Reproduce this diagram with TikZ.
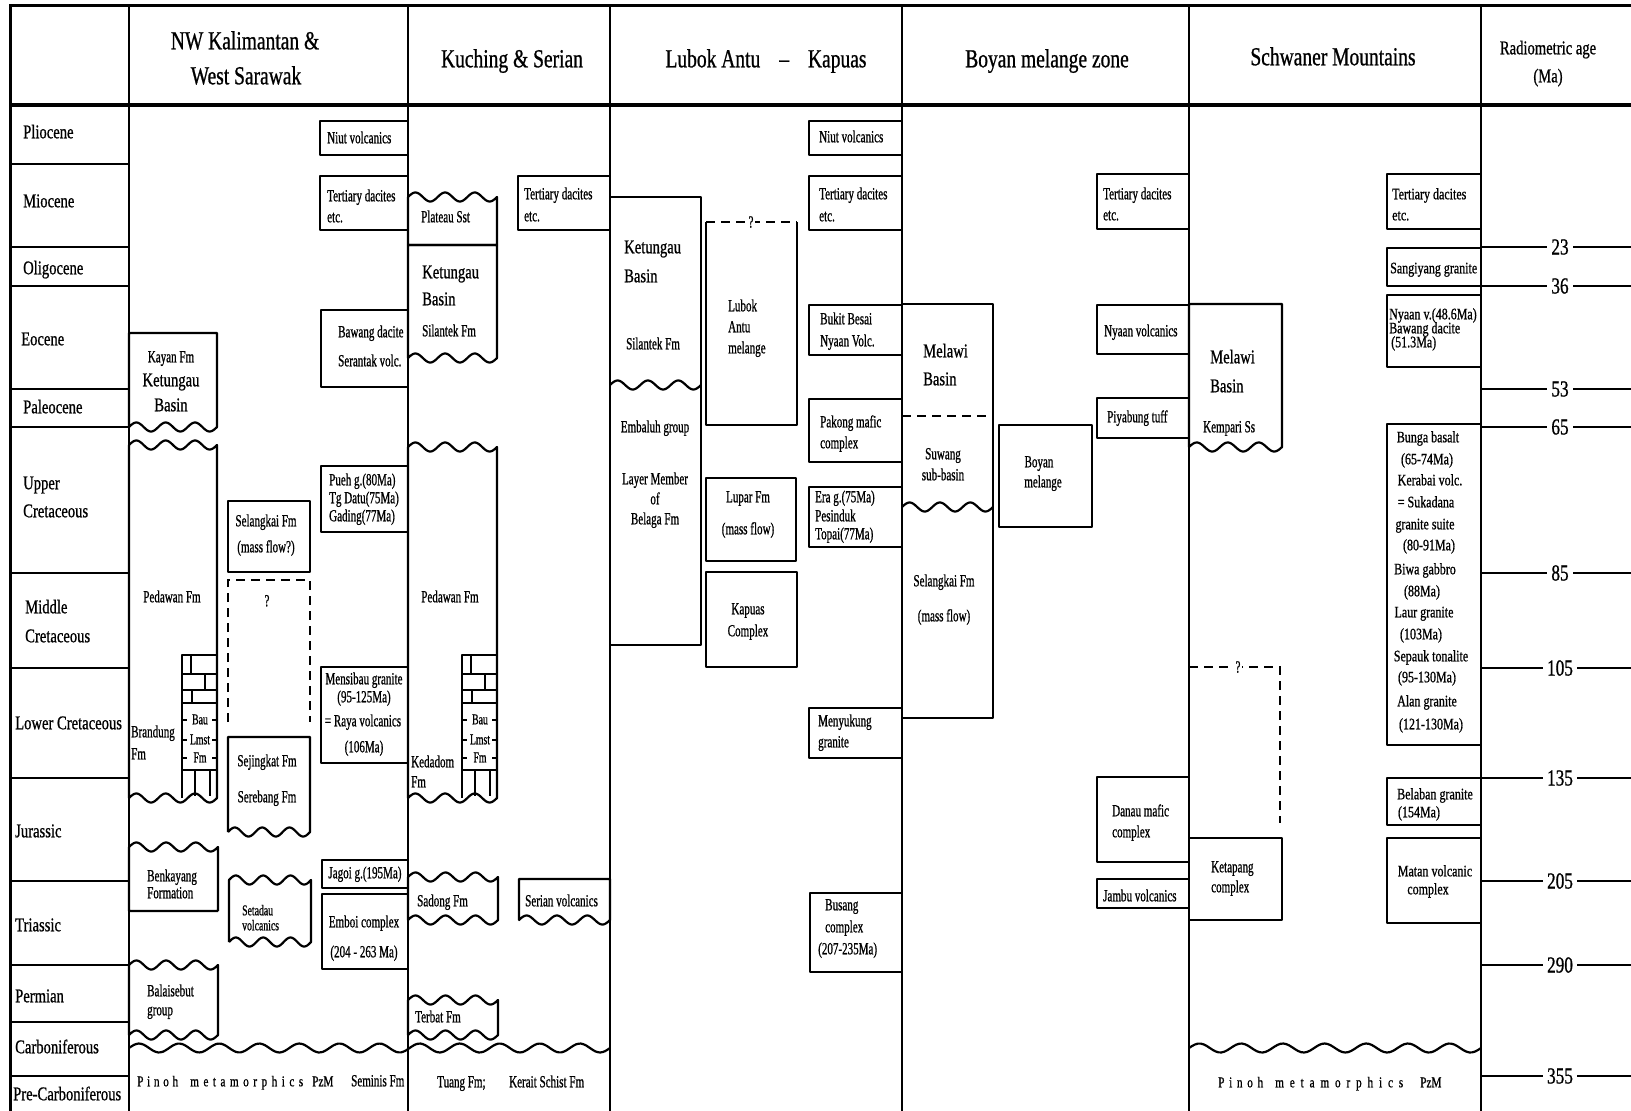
\documentclass[tikz,border=0pt]{standalone}
\usepackage{fontspec}
\setmainfont[FakeStretch=0.75,FakeBold=0.8]{Liberation Serif}
\newfontfamily\nar[FakeStretch=0.65,FakeBold=0.8]{Liberation Serif}
\newcommand\TL[5]{\node[#1,anchor=mid west] (#2) at (#3,#4) {#5};}
\newcommand\TC[5]{\node[#1,anchor=mid] (#2) at (#3,#4) {#5};}
\newcommand\spr[2]{\makebox[#1][s]{#2}}
\tikzset{
 wvr/.style n args={4}{insert path={-- plot[domain=#1:#2,samples=100,smooth,variable=\t] (\t,{#3-4.5*sin(360*#4*((\t-#1)/(#2-#1)))})}},
 wvl/.style n args={4}{insert path={-- plot[domain=#2:#1,samples=100,smooth,variable=\t] (\t,{#3-4.5*sin(360*#4*((\t-#1)/(#2-#1)))})}},
 bx/.style={line width=2.2pt, line join=round},
 col/.style={line width=2pt},
 dsh/.style={line width=2.4pt, dash pattern=on 9pt off 6pt},
 tx/.style={font=\nar\fontsize{17}{19}\selectfont, inner sep=0pt, yshift=-2pt},
 txs/.style={font=\nar\fontsize{15}{16}\selectfont, inner sep=0pt, yshift=-2pt},
 bg/.style={font=\fontsize{19.5}{22}\selectfont, inner sep=0pt, yshift=-3pt},
 hd/.style={font=\fontsize{26}{30}\selectfont, inner sep=0pt, yshift=-5pt},
 rt/.style={font=\fontsize{16}{17}\selectfont, inner sep=0pt, yshift=-2pt},
 pin/.style={font=\fontsize{15}{16}\selectfont, inner sep=0pt, yshift=-2pt},
 num/.style={font=\fontsize{23}{25}\selectfont, fill=white, inner xsep=4pt, inner ysep=1pt},
 qm/.style={font=\nar\fontsize{17}{19}\selectfont, fill=white, inner sep=2pt},
}
\newcommand\bricks[2]{%
 \draw[bx] (#1,798) -- (#1,655) -- (#1+35,655);
 \draw[line width=1.8pt] (#1,674) -- (#1+35,674) (#1,690) -- (#1+35,690) (#1,703) -- (#1+35,703) (#1,770) -- (#1+35,770);
 \draw[line width=1.8pt] (#1+9,655) -- (#1+9,674) (#1+23,674) -- (#1+23,690) (#1+10,690) -- (#1+10,703) (#1+13,770) -- (#1+13,796) (#1+28,770) -- (#1+28,796);
 \foreach \yy in {720,740,758} {\draw[line width=1.5pt] (#1,\yy) -- (#1+5,\yy) (#1+30,\yy) -- (#1+35,\yy);}
 \TC{txs}{#2a}{#1+18}{720}{Bau}
 \TC{txs}{#2b}{#1+18}{740}{Lmst}
 \TC{txs}{#2c}{#1+18}{758}{Fm}
}
\begin{document}
\begin{tikzpicture}[x=1pt,y=-1pt]
\useasboundingbox (0,0) rectangle (1631,1111);
% frame
\draw[line width=3pt] (10,1111) -- (10,5) -- (1631,5);
\draw[line width=3.5pt] (10,105) -- (1631,105);
\foreach \x in {129,408,610,902,1189,1481} \draw[col] (\x,5) -- (\x,1111);
\foreach \y in {164,247,286,389,427,573,668,778,881,965,1022,1076} \draw[line width=2.6pt] (10,\y) -- (129,\y);
% ages
\foreach \y/\v [count=\i] in {247/23,286/36,389/53,427/65,573/85,668/105,778/135,881/205,965/290,1076/355} {\draw[col] (1481,\y) -- (1631,\y); \node[num] (age\i) at (1560,\y) {\v};}
% headers
\TC{hd}{h1a}{245}{42}{NW Kalimantan \&}
\TC{hd}{h1b}{246}{77}{West Sarawak}
\TC{hd}{h2}{512}{60}{Kuching \& Serian}
\TC{hd}{h3}{766}{60}{Lubok Antu\hspace{19pt}\textendash\hspace{19pt}Kapuas}
\TC{hd}{h4}{1047}{60}{Boyan melange zone}
\TC{hd}{h5}{1333}{58}{Schwaner Mountains}
\TC{bg}{h6a}{1548}{49}{Radiometric age}
\TC{bg}{h6b}{1548}{77}{(Ma)}
% periods
\TL{bg}{p1}{23}{133}{Pliocene}
\TL{bg}{p2}{23}{202}{Miocene}
\TL{bg}{p3}{23}{269}{Oligocene}
\TL{bg}{p4}{21}{340}{Eocene}
\TL{bg}{p5}{23}{408}{Paleocene}
\TL{bg}{p6a}{23}{484}{Upper}
\TL{bg}{p6b}{23}{512}{Cretaceous}
\TL{bg}{p7a}{25}{608}{Middle}
\TL{bg}{p7b}{25}{637}{Cretaceous}
\TL{bg}{p8}{15}{724}{Lower Cretaceous}
\TL{bg}{p9}{15}{832}{Jurassic}
\TL{bg}{p10}{15}{926}{Triassic}
\TL{bg}{p11}{15}{997}{Permian}
\TL{bg}{p12}{15}{1048}{Carboniferous}
\TL{bg}{p13}{13}{1095}{Pre-Carboniferous}
% ===== NW Kalimantan =====
\draw[bx] (320,121) rectangle (408,155);
\TL{tx}{nwNiut}{327}{139}{Niut volcanics}
\draw[bx] (320,176) rectangle (408,230);
\TL{tx}{nwTd1}{327}{197}{Tertiary dacites}
\TL{tx}{nwTd2}{327}{218}{etc.}
\draw[bx] (321,310) rectangle (408,387);
\TL{tx}{nwBaw}{338}{333}{Bawang dacite}
\TL{tx}{nwSer}{338}{362}{Serantak volc.}
\draw[bx] (129,427) -- (129,333) -- (217,333) -- (217,427) [wvl={129}{217}{427}{3}];
\TC{tx}{kay}{171}{358}{Kayan Fm}
\TC{bg}{kayK}{171}{381}{Ketungau}
\TC{bg}{kayB}{171}{406}{Basin}
\draw[bx] (129,798) -- (129,445) [wvr={129}{217}{445}{3}] -- (217,798) [wvl={129}{217}{798}{3}] -- cycle;
\TC{tx}{nwPed}{172}{598}{Pedawan Fm}
\TL{tx}{nwBra}{131}{733}{Brandung}
\TL{tx}{nwBraF}{131}{755}{Fm}
\bricks{182}{nwbau}
\draw[bx] (228,501) rectangle (310,572);
\TC{tx}{nwSel}{266}{522}{Selangkai Fm}
\TC{tx}{nwSelm}{266}{548}{(mass flow?)}
\draw[dsh] (228,722) -- (228,580) -- (310,580) -- (310,722);
\TC{tx}{nwQ}{267}{602}{?}
\draw[bx] (228,832) -- (228,737) -- (310,737) -- (310,832) [wvl={228}{310}{832}{3}];
\TC{tx}{nwSej}{267}{762}{Sejingkat Fm}
\TC{tx}{nwSereb}{267}{798}{Serebang Fm}
\draw[bx] (321,466) rectangle (408,532);
\TL{tx}{pueh1}{329}{481}{Pueh g.(80Ma)}
\TL{tx}{pueh2}{329}{499}{Tg Datu(75Ma)}
\TL{tx}{pueh3}{329}{517}{Gading(77Ma)}
\draw[bx] (321,667) rectangle (408,763);
\TC{tx}{mens1}{364}{680}{Mensibau granite}
\TC{tx}{mens2}{364}{698}{(95-125Ma)}
\TC{tx}{mens3}{363}{722}{= Raya volcanics}
\TC{tx}{mens4}{364}{748}{(106Ma)}
\draw[bx] (218,911) -- (129,911) -- (129,847) [wvr={129}{218}{847}{3}] -- (218,911);
\TL{tx}{benk1}{147}{877}{Benkayang}
\TL{tx}{benk2}{147}{894}{Formation}
\draw[bx] (229,942) -- (229,880) [wvr={229}{311}{880}{3}] -- (311,942) [wvl={229}{311}{942}{3}];
\TL{txs}{seta1}{242}{911}{Setadau}
\TL{txs}{seta2}{242}{926}{volcanics}
\draw[bx] (322,860) rectangle (408,888);
\TC{tx}{jagoi}{365}{874}{Jagoi g.(195Ma)}
\draw[bx] (322,894) rectangle (408,969);
\TC{tx}{emb1}{364}{923}{Emboi complex}
\TC{tx}{emb2}{364}{953}{(204 - 263 Ma)}
\draw[bx] (129,1035) -- (129,965) [wvr={129}{218}{965}{3}] -- (218,1035) [wvl={129}{218}{1035}{3}];
\TL{tx}{bal1}{147}{992}{Balaisebut}
\TL{tx}{bal2}{147}{1011}{group}
\draw[bx] (129,1048) [wvr={129}{610}{1048}{12}];
\node[pin,anchor=mid west] (nwPin) at (137,1082) {\spr{41pt}{P\hfil i\hfil n\hfil o\hfil h}};
\node[pin,anchor=mid west] (nwMet) at (190,1082) {\spr{113pt}{m\hfil e\hfil t\hfil a\hfil m\hfil o\hfil r\hfil p\hfil h\hfil i\hfil c\hfil s}};
\TL{pin}{nwPzM}{312}{1082}{PzM}
\TL{tx}{nwSem}{351}{1082}{Seminis Fm}
% ===== Kuching & Serian =====
\draw[bx] (408,245) -- (408,197) [wvr={408}{497}{197}{3}] -- (497,245) -- cycle;
\TL{tx}{plat}{421}{218}{Plateau Sst}
\draw[bx] (408,245) -- (497,245) -- (497,358) [wvl={408}{497}{358}{3}] -- cycle;
\TL{bg}{kuK}{422}{273}{Ketungau}
\TL{bg}{kuB}{422}{300}{Basin}
\TL{tx}{kuSil}{422}{332}{Silantek Fm}
\draw[bx] (518,176) rectangle (610,230);
\TL{tx}{kuTd1}{524}{195}{Tertiary dacites}
\TL{tx}{kuTd2}{524}{217}{etc.}
\draw[bx] (408,798) -- (408,447) [wvr={408}{497}{447}{3}] -- (497,798) [wvl={408}{497}{798}{3}] -- cycle;
\TC{tx}{kuPed}{450}{598}{Pedawan Fm}
\TL{tx}{kuKed}{411}{763}{Kedadom}
\TL{tx}{kuKedF}{411}{783}{Fm}
\bricks{462}{kubau}
\draw[bx] (408,920) -- (408,877) [wvr={408}{498}{877}{3}] -- (498,920) [wvl={408}{498}{920}{3}] -- cycle;
\TL{tx}{sad}{417}{902}{Sadong Fm}
\draw[bx] (519,920) -- (519,879) -- (610,879) -- (610,920) [wvl={519}{610}{920}{3}] -- cycle;
\TL{tx}{seri}{525}{902}{Serian volcanics}
\draw[bx] (408,1035) -- (408,1000) [wvr={408}{498}{1000}{3}] -- (498,1035) [wvl={408}{498}{1035}{3}] -- cycle;
\TL{tx}{terb}{415}{1018}{Terbat Fm}
\TL{tx}{tuang}{437}{1083}{Tuang Fm;}
\TL{tx}{kerait}{509}{1083}{Kerait Schist Fm}
% ===== Lubok Antu - Kapuas =====
\draw[bx] (610,197) rectangle (701,645);
\draw[bx] (610,385) [wvr={610}{701}{385}{3}];
\TL{bg}{luK}{624}{248}{Ketungau}
\TL{bg}{luB}{624}{277}{Basin}
\TL{tx}{luSil}{626}{345}{Silantek Fm}
\TC{tx}{luEmb}{655}{428}{Embaluh group}
\TC{tx}{luLay}{655}{480}{Layer Member}
\TC{tx}{luOf}{655}{500}{of}
\TC{tx}{luBel}{655}{520}{Belaga Fm}
\draw[bx] (706,222) -- (706,425) -- (797,425) -- (797,222);
\draw[dsh] (706,222) -- (797,222);
\node[qm] (luQ) at (751,222) {?};
\TL{tx}{lam1}{728}{307}{Lubok}
\TL{tx}{lam2}{728}{328}{Antu}
\TL{tx}{lam3}{728}{349}{melange}
\draw[bx] (706,478) rectangle (796,561);
\TC{tx}{lup1}{748}{498}{Lupar Fm}
\TC{tx}{lup2}{748}{530}{(mass flow)}
\draw[bx] (706,572) rectangle (797,667);
\TC{tx}{kap1}{748}{610}{Kapuas}
\TC{tx}{kap2}{748}{632}{Complex}
\draw[bx] (809,121) rectangle (902,155);
\TL{tx}{luNiut}{819}{138}{Niut volcanics}
\draw[bx] (809,176) rectangle (902,230);
\TL{tx}{luTd1}{819}{195}{Tertiary dacites}
\TL{tx}{luTd2}{819}{217}{etc.}
\draw[bx] (809,305) rectangle (902,355);
\TL{tx}{buk1}{820}{320}{Bukit Besai}
\TL{tx}{buk2}{820}{342}{Nyaan Volc.}
\draw[bx] (809,399) rectangle (902,462);
\TL{tx}{pak1}{820}{423}{Pakong mafic}
\TL{tx}{pak2}{820}{444}{complex}
\draw[bx] (809,487) rectangle (902,547);
\TL{tx}{era1}{815}{498}{Era g.(75Ma)}
\TL{tx}{era2}{815}{517}{Pesinduk}
\TL{tx}{era3}{815}{535}{Topai(77Ma)}
\draw[bx] (809,708) rectangle (902,758);
\TL{tx}{meny1}{818}{722}{Menyukung}
\TL{tx}{meny2}{818}{743}{granite}
\draw[bx] (810,893) rectangle (902,972);
\TL{tx}{bus1}{825}{906}{Busang}
\TL{tx}{bus2}{825}{928}{complex}
\TL{tx}{bus3}{818}{950}{(207-235Ma)}
% ===== Boyan melange zone =====
\draw[bx] (902,416) -- (902,304) -- (993,304) -- (993,718) -- (902,718);
\draw[dsh] (902,416) -- (993,416);
\draw[bx] (902,507) [wvr={902}{993}{507}{3}];
\TL{bg}{boM}{923}{352}{Melawi}
\TL{bg}{boB}{923}{380}{Basin}
\TC{tx}{suw1}{943}{455}{Suwang}
\TC{tx}{suw2}{943}{476}{sub-basin}
\TC{tx}{bsel1}{944}{582}{Selangkai Fm}
\TC{tx}{bsel2}{944}{617}{(mass flow)}
\draw[bx] (999,425) rectangle (1092,527);
\TC{tx}{boy1}{1039}{463}{Boyan}
\TC{tx}{boy2}{1043}{483}{melange}
\draw[bx] (1097,174) rectangle (1189,229);
\TL{tx}{boTd1}{1103}{195}{Tertiary dacites}
\TL{tx}{boTd2}{1103}{216}{etc.}
\draw[bx] (1097,305) rectangle (1189,354);
\TL{tx}{boNy}{1104}{332}{Nyaan volcanics}
\draw[bx] (1097,398) rectangle (1189,438);
\TL{tx}{piy}{1107}{418}{Piyabung tuff}
\draw[bx] (1097,777) rectangle (1189,862);
\TL{tx}{dan1}{1112}{812}{Danau mafic}
\TL{tx}{dan2}{1112}{833}{complex}
\draw[bx] (1097,879) rectangle (1189,908);
\TL{tx}{jam}{1103}{897}{Jambu volcanics}
% ===== Schwaner Mountains =====
\draw[bx] (1189,447) -- (1189,304) -- (1282,304) -- (1282,447) [wvl={1189}{1282}{447}{3}];
\TL{bg}{scM}{1210}{358}{Melawi}
\TL{bg}{scB}{1210}{387}{Basin}
\TL{tx}{kem}{1203}{428}{Kempari Ss}
\draw[dsh] (1189,667) -- (1280,667) -- (1280,823);
\node[qm] (scQ) at (1238,667) {?};
\draw[bx] (1189,838) rectangle (1282,920);
\TL{tx}{ket1}{1211}{868}{Ketapang}
\TL{tx}{ket2}{1211}{888}{complex}
\draw[bx] (1189,1048) [wvr={1189}{1481}{1048}{7}];
\node[pin,anchor=mid west] (scPin) at (1218,1083) {\spr{45pt}{P\hfil i\hfil n\hfil o\hfil h}};
\node[pin,anchor=mid west] (scMet) at (1275,1083) {\spr{128pt}{m\hfil e\hfil t\hfil a\hfil m\hfil o\hfil r\hfil p\hfil h\hfil i\hfil c\hfil s}};
\TL{pin}{scPzM}{1420}{1083}{PzM}
\draw[bx] (1387,174) rectangle (1481,229);
\TL{rt}{scTd1}{1392}{195}{Tertiary dacites}
\TL{rt}{scTd2}{1392}{216}{etc.}
\draw[bx] (1387,248) rectangle (1481,286);
\TL{rt}{sang}{1390}{269}{Sangiyang granite}
\draw[bx] (1387,295) rectangle (1481,367);
\TL{rt}{nyv1}{1389}{315}{Nyaan v.(48.6Ma)}
\TL{rt}{nyv2}{1389}{329}{Bawang dacite}
\TL{rt}{nyv3}{1391}{343}{(51.3Ma)}
\draw[bx] (1387,424) rectangle (1481,745);
\TC{rt}{bb1}{1428}{438}{Bunga basalt}
\TC{rt}{bb2}{1427}{460}{(65-74Ma)}
\TC{rt}{bb3}{1430}{481}{Kerabai volc.}
\TC{rt}{bb4}{1426}{503}{= Sukadana}
\TC{rt}{bb5}{1425}{525}{granite suite}
\TC{rt}{bb6}{1429}{546}{(80-91Ma)}
\TC{rt}{bb7}{1425}{570}{Biwa gabbro}
\TC{rt}{bb8}{1422}{592}{(88Ma)}
\TC{rt}{bb9}{1424}{613}{Laur granite}
\TC{rt}{bb10}{1421}{635}{(103Ma)}
\TC{rt}{bb11}{1431}{657}{Sepauk tonalite}
\TC{rt}{bb12}{1427}{678}{(95-130Ma)}
\TC{rt}{bb13}{1427}{702}{Alan granite}
\TC{rt}{bb14}{1431}{725}{(121-130Ma)}
\draw[bx] (1387,778) rectangle (1481,825);
\TC{rt}{bel1}{1435}{795}{Belaban granite}
\TC{rt}{bel2}{1419}{813}{(154Ma)}
\draw[bx] (1387,838) rectangle (1481,923);
\TC{rt}{mat1}{1435}{872}{Matan volcanic}
\TC{rt}{mat2}{1428}{890}{complex}
\end{tikzpicture}
\end{document}
